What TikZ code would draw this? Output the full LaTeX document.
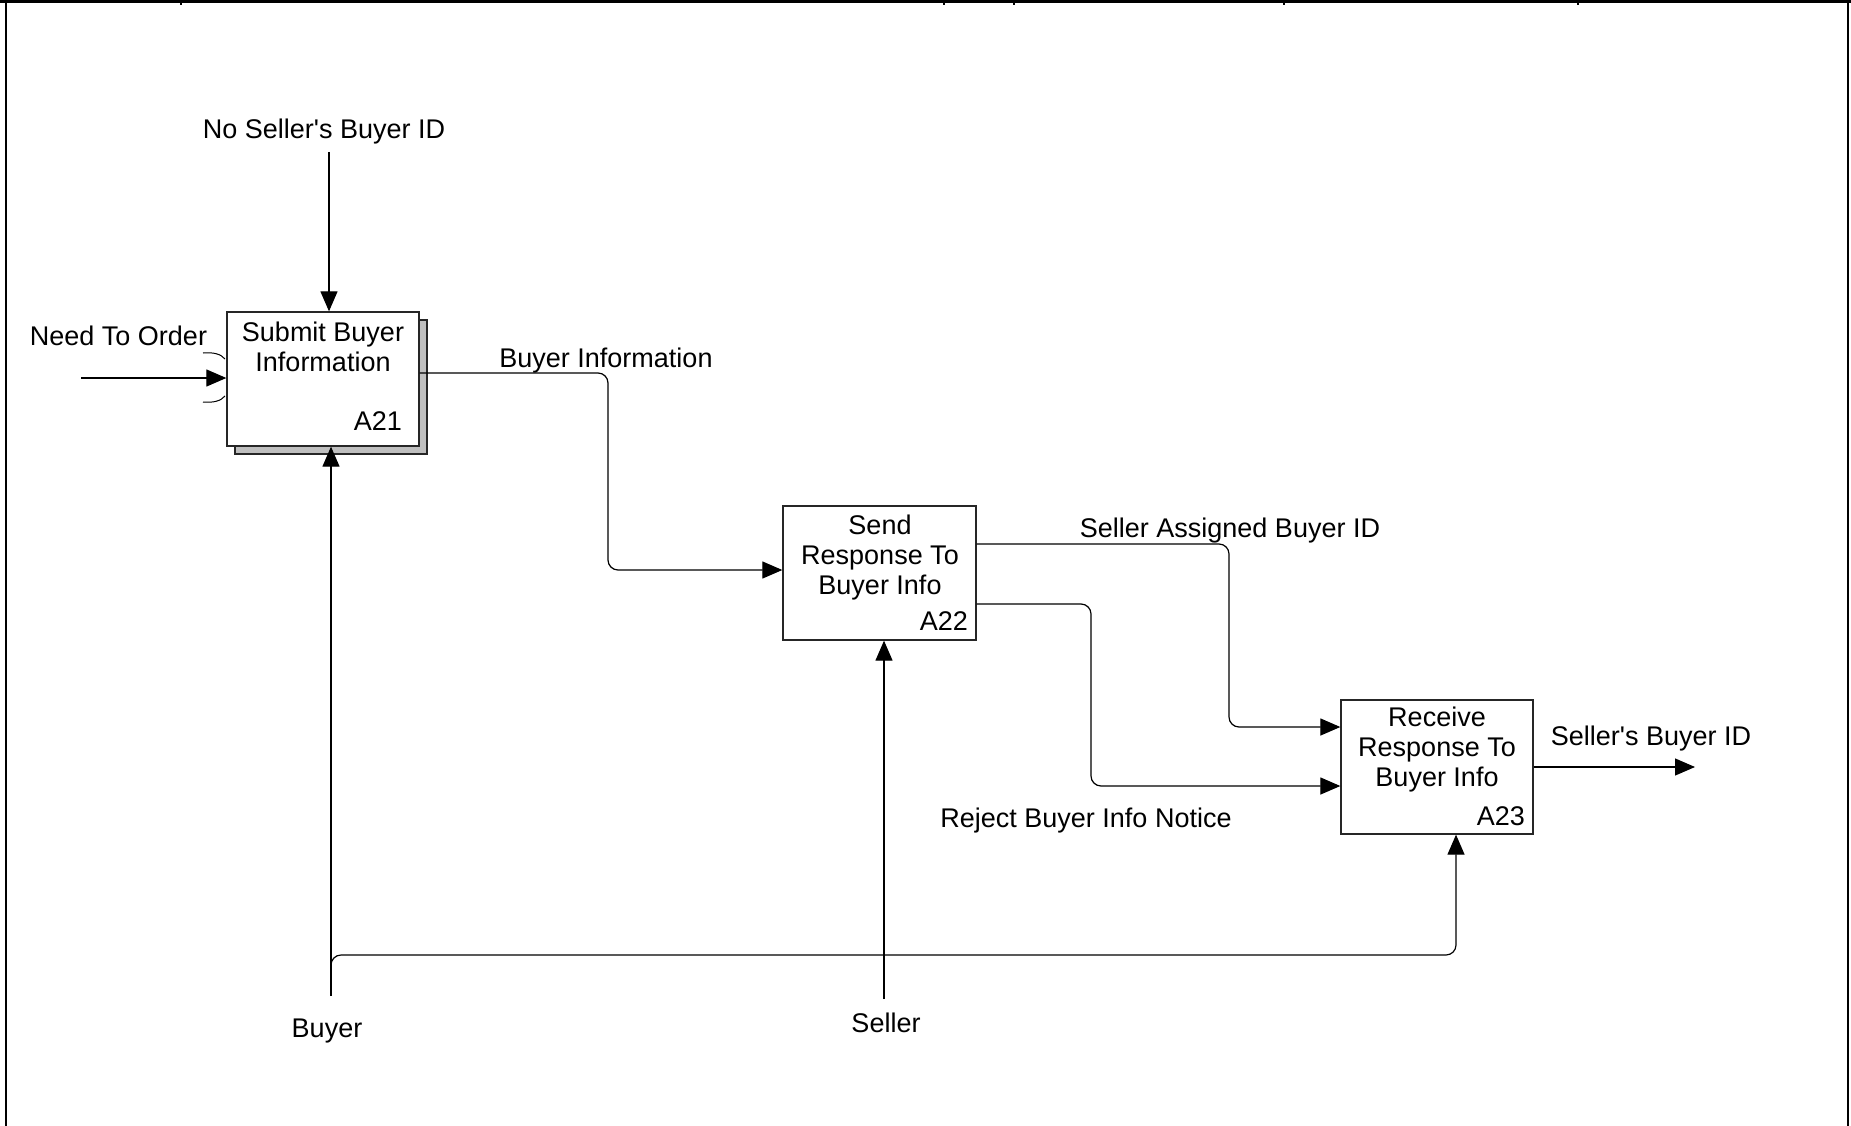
\documentclass[tikz,border=0pt]{standalone}
\usepackage{fontspec}
\newfontfamily\lsans{Liberation Sans}
\usetikzlibrary{arrows.meta}
\tikzset{
  box/.style={draw=black!85, line width=1.3pt, fill=white, rectangle, inner sep=0pt, minimum width=192pt, minimum height=134pt},
  lbl/.style={inner sep=0pt, font=\lsans\fontsize{27}{30}\selectfont, text=black},
  conn/.style={line width=1.2pt, draw=black},
  arr/.style={conn, -{Triangle[length=20pt,width=17pt]}},
  rc/.style={rounded corners=10pt},
  frameline/.style={draw=black},
  tunnel/.style={line width=1pt, draw=black}
}
\begin{document}
\begin{tikzpicture}[x=1pt, y=-1pt]
\useasboundingbox (0,0) rectangle (1851,1126);
% frame
\draw[frameline, line width=3pt] (0,1.5) -- (1851,1.5);
\draw[frameline, line width=2.5pt] (6,0) -- (6,1126);
\draw[frameline, line width=2.5pt] (1848,0) -- (1848,1126);
\foreach \tx in {181,944,1014,1284,1578} { \draw[frameline, line width=1.5pt] (\tx,0) -- (\tx,5); }

% A21 with shadow
\draw[line width=1.3pt, draw=black!85, fill=black!25] (235,320) rectangle (427,454);
\node[box] (a21) at (323,379) {};
\node[lbl, align=center, anchor=base] (a21t) at (323,371) {Submit Buyer\\Information};
\node[lbl, anchor=base east] (a21n) at (402,430) {A21};

% A22
\node[box, minimum width=193pt] (a22) at (879.5,573) {};
\node[lbl, align=center, anchor=base] (a22t) at (880,594) {Send\\Response To\\Buyer Info};
\node[lbl, anchor=base east] (a22n) at (968,630) {A22};

% A23
\node[box] (a23) at (1437,767) {};
\node[lbl, align=center, anchor=base] (a23t) at (1437,786) {Receive\\Response To\\Buyer Info};
\node[lbl, anchor=base east] (a23n) at (1525,825) {A23};

% labels
\node[lbl, anchor=base] (lNoSel) at (324,139) {No Seller's Buyer ID};
\node[lbl, anchor=base] (lNeed) at (118.5,345) {Need To Order};
\node[lbl, anchor=base] (lBInfo) at (606,367) {Buyer Information};
\node[lbl, anchor=base] (lSAB) at (1230,537) {Seller Assigned Buyer ID};
\node[lbl, anchor=base] (lRej) at (1086,827) {Reject Buyer Info Notice};
\node[lbl, anchor=base] (lSBI) at (1651,745) {Seller's Buyer ID};
\node[lbl, anchor=base] (lBuyer) at (327,1037) {Buyer};
\node[lbl, anchor=base] (lSeller) at (886,1032) {Seller};

% free ends
\coordinate (inNoSel) at (329,152);
\coordinate (inNeed) at (81,378);
\coordinate (outSBI) at (1695,767);
\coordinate (buyerEnd) at (331,996);
\coordinate (buyerBr) at (331,975);
\coordinate (buyerCorner) at (1456,955);
\coordinate (sellerEnd) at (884,999);

% connectors
\draw[arr] (inNoSel) -- (inNoSel |- a21.north);
\draw[arr] (inNeed) -- (inNeed -| a21.west);
\draw[tunnel] (203,353) .. controls (213,352) and (221,354) .. (225,359);
\draw[tunnel] (203,402) .. controls (213,403) and (221,401) .. (225,396);

\draw[arr, rc] (a21.east |- 0,373) -- (608,373) -- (608,570) -- (a22.west |- 0,570);
\draw[arr, rc] (a22.east |- 0,544) -- (1229,544) -- (1229,727) -- (a23.west |- 0,727);
\draw[arr, rc] (a22.east |- 0,604) -- (1091,604) -- (1091,786) -- (a23.west |- 0,786);
\draw[arr] (a23.east) -- (outSBI);

\draw[arr] (buyerEnd) -- (buyerEnd |- a21.south);
\draw[arr, rc] (buyerBr) -- (buyerBr |- buyerCorner) -- (buyerCorner) -- (buyerCorner |- a23.south);
\draw[arr] (sellerEnd) -- (sellerEnd |- a22.south);
\end{tikzpicture}
\end{document}
